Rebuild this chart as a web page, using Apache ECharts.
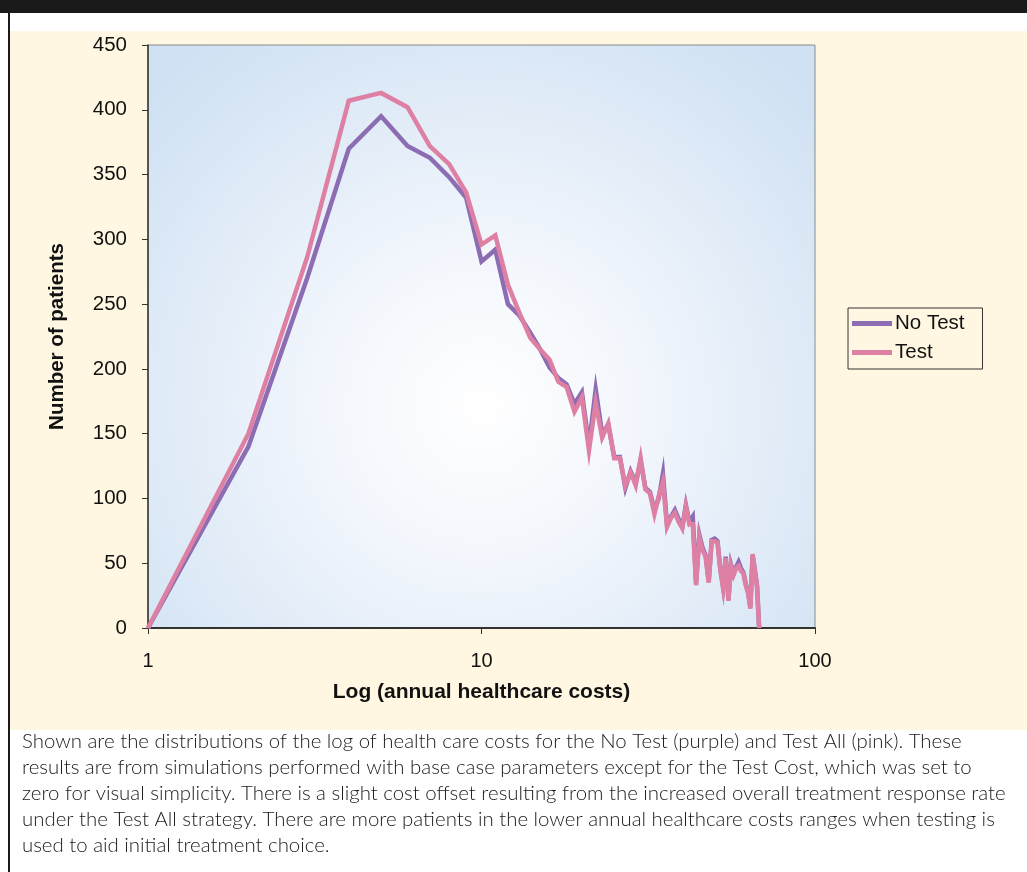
<!DOCTYPE html>
<html>
<head>
<meta charset="utf-8">
<script src="https://cdn.jsdelivr.net/npm/echarts@6/dist/echarts.min.js"></script>
<style>
  html, body { margin: 0; padding: 0; background: #ffffff; }
  #wrap { position: relative; width: 1027px; height: 872px; overflow: hidden; background: #ffffff; }
  #topbar { position: absolute; left: 0; top: 0; width: 1027px; height: 13px; background: #1a1a1a; }
  #leftbar { position: absolute; left: 8px; top: 0; width: 2px; height: 872px; background: #1a1a1a; }
  #cream { position: absolute; left: 10px; top: 31px; width: 1017px; height: 699px; background: #fff7e1; }
  #chart { position: absolute; left: 0; top: 0; width: 1027px; height: 872px; }
</style>
</head>
<body>
<div id="wrap">
  <div id="topbar"></div>
  <div id="cream"></div>
  <div id="leftbar"></div>
  <div id="chart"></div>
</div>
<script>
// Log (annual healthcare costs) values — integer cost bins
var costs = [1,2,3,4,5,6,7,8,9,10,11,12,13,14,15,16,17,18,19,20,
  21,22,23,24,25,26,27,28,29,30,31,32,33,34,35,36,37,38,39,40,
  41,42,43,44,45,46,47,48,49,50,51,52,53,54,55,56,57,58,59,60,
  61,62,63,64,65,66,67,68];
var noTest = [0,140,270,370,395,372,363,348,332,283,292,250,241,228,215,201,193,188,173,182,
  141,184,150,157,132,132,108,121,112,129,108,105,91,100,119,80,86,91,84,78,
  95,82,86,35,72,62,56,36,68,69,67,46,32,55,22,49,42,47,51,46,
  43,34,28,16,56,45,33,0];
var test = [0,150,286,407,413,402,372,358,336,296,303,265,243,224,215,207,190,186,167,178,
  137,174,147,158,131,131,110,120,110,131,107,104,88,102,113,78,85,89,82,77,
  94,80,80,33,70,60,55,35,67,67,66,45,31,54,21,48,41,46,48,44,
  42,33,27,15,57,44,32,0];
var seriesNames = ['No Test', 'Test'];
var yTicks = [0,50,100,150,200,250,300,350,400,450];
var caption = [
  'Shown are the distributions of the log of health care costs for the No Test (purple) and Test All (pink). These',
  'results are from simulations performed with base case parameters except for the Test Cost, which was set to',
  'zero for visual simplicity. There is a slight cost offset resulting from the increased overall treatment response rate',
  'under the Test All strategy. There are more patients in the lower annual healthcare costs ranges when testing is',
  'used to aid initial treatment choice.'
];

function pairs(xs, ys) { return xs.map(function (x, i) { return [x, ys[i]]; }); }

var chart = echarts.init(document.getElementById('chart'), null, { renderer: 'canvas' });
var fontFam = '"Liberation Sans", Arial, Helvetica, sans-serif';

var capGraphics = caption.map(function (line, i) {
  return {
    type: 'text', left: 22, top: 731 + i * 26.2,
    style: { text: line, fontFamily: 'Lato, "Open Sans", sans-serif', fontWeight: 300, fontSize: 20.4, fill: '#1a1a1a' }
  };
});

chart.setOption({
  backgroundColor: 'transparent',
  animation: false,
  textStyle: { fontFamily: fontFam },
  grid: {
    left: 148, top: 45, width: 667, height: 583,
    show: true, borderColor: '#8a8a8a', borderWidth: 1,
    backgroundColor: {
      type: 'radial', x: 0.5, y: 0.62, r: 0.78,
      colorStops: [
        { offset: 0, color: '#ffffff' },
        { offset: 0.35, color: '#f2f6fc' },
        { offset: 1, color: '#cfe1f3' }
      ]
    }
  },
  legend: {
    orient: 'vertical', left: 848, top: 308,
    data: seriesNames,
    icon: 'rect', itemWidth: 40, itemHeight: 5, itemGap: 8,
    padding: [5, 18, 6, 4],
    borderColor: '#333', borderWidth: 1, backgroundColor: '#fff7e1',
    textStyle: { fontSize: 20.5, color: '#111', fontFamily: fontFam, padding: [0, 0, 0, -2] }
  },
  xAxis: {
    type: 'log', logBase: 10, min: 1, max: 100,
    name: 'Log (annual healthcare costs)', nameLocation: 'middle', nameGap: 54,
    nameTextStyle: { fontSize: 21, fontWeight: 'bold', color: '#111', fontFamily: fontFam },
    axisLine: { show: true, lineStyle: { color: '#333', width: 2 } },
    axisTick: { show: true, length: 6, lineStyle: { color: '#333' } },
    axisLabel: { fontSize: 20, color: '#111', margin: 23, fontFamily: fontFam },
    splitLine: { show: false },
    minorTick: { show: false }
  },
  yAxis: {
    type: 'value', min: 0, max: 450, interval: 50,
    name: 'Number of patients', nameLocation: 'middle', nameGap: 80, nameRotate: 90,
    nameTextStyle: { fontSize: 20.5, fontWeight: 'bold', color: '#111', fontFamily: fontFam },
    axisLine: { show: true, lineStyle: { color: '#333', width: 1.5 } },
    axisTick: { show: true, length: 6, lineStyle: { color: '#333' } },
    axisLabel: { fontSize: 20.5, color: '#111', margin: 21, fontFamily: fontFam,
      formatter: function (v) { return yTicks.indexOf(v) >= 0 ? String(v) : ''; } },
    splitLine: { show: false }
  },
  series: [
    {
      name: seriesNames[0], type: 'line', data: pairs(costs, noTest),
      showSymbol: false, symbol: 'none', clip: false,
      itemStyle: { color: '#8c6cb2' },
      lineStyle: { color: '#8c6cb2', width: 4.5, join: 'miter' }, z: 3
    },
    {
      name: seriesNames[1], type: 'line', data: pairs(costs, test),
      showSymbol: false, symbol: 'none', clip: false,
      itemStyle: { color: '#de80a4' },
      lineStyle: { color: '#de80a4', width: 4.5, join: 'miter' }, z: 4
    }
  ],
  graphic: capGraphics
});
</script>
</body>
</html>
